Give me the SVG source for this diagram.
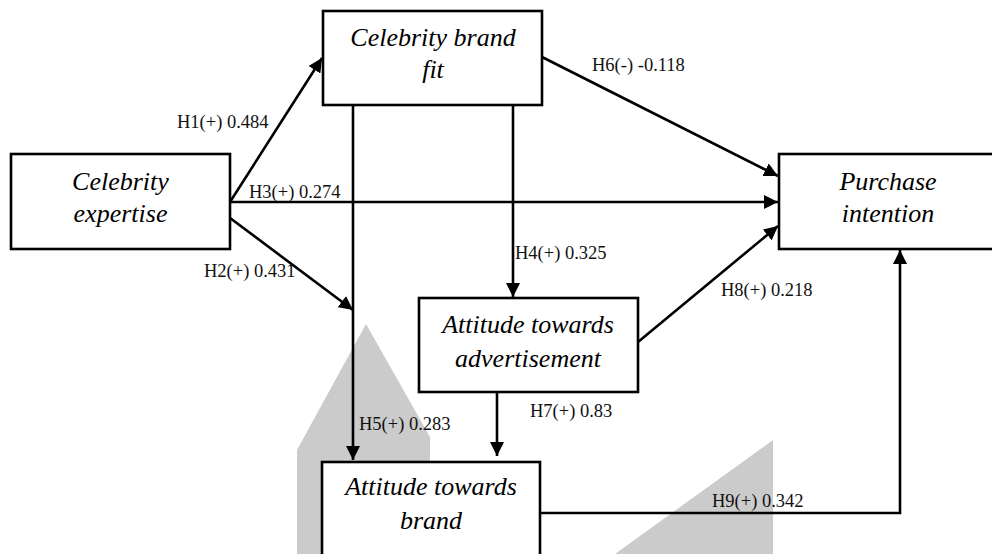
<svg xmlns="http://www.w3.org/2000/svg" width="992" height="554" viewBox="0 0 992 554">
  <defs>
    <marker id="arrow" markerWidth="14" markerHeight="14" refX="14" refY="7" orient="auto" markerUnits="userSpaceOnUse">
      <path d="M0,0 L14,7 L0,14 z" fill="#000"/>
    </marker>
    <style>
      .box { fill: #fff; stroke: #000; stroke-width: 2.6; }
      .node-text { font-family: "Liberation Serif", "Times New Roman", serif; font-style: italic; font-size: 26px; fill: #000; text-anchor: middle; }
      .edge { fill: none; stroke: #000; stroke-width: 2.6; }
      .edge-arrow { marker-end: url(#arrow); }
      .label { font-family: "Liberation Serif", "Times New Roman", serif; font-size: 18.5px; fill: #111; }
      .mark { fill: #cbcbcb; }
    </style>
  </defs>

  <rect width="992" height="554" fill="#fff"/>

  <!-- background watermark shapes -->
  <g id="watermark">
    <polygon class="mark" points="297,554 297,450 366,324 430,437 430,554"/>
    <polygon class="mark" points="773,440 773,554 615,554"/>
  </g>

  <!-- connectors -->
  <g id="connectors">
    <line class="edge edge-arrow" x1="230" y1="202" x2="322" y2="58"/>
    <line class="edge edge-arrow" x1="230" y1="202" x2="778" y2="202"/>
    <line class="edge edge-arrow" x1="230" y1="218" x2="353" y2="310"/>
    <line class="edge edge-arrow" x1="513" y1="105" x2="513" y2="297"/>
    <line class="edge edge-arrow" x1="353" y1="105" x2="353" y2="460"/>
    <line class="edge edge-arrow" x1="542" y1="57" x2="778" y2="176"/>
    <line class="edge edge-arrow" x1="497" y1="392" x2="497" y2="456"/>
    <line class="edge edge-arrow" x1="638" y1="342" x2="778" y2="226"/>
    <polyline class="edge edge-arrow" points="540,513 900,513 900,250"/>
  </g>

  <!-- path labels -->
  <g id="labels">
    <text class="label" x="177" y="128">H1(+) 0.484</text>
    <text class="label" x="204" y="277">H2(+) 0.431</text>
    <text class="label" x="249" y="198">H3(+) 0.274</text>
    <text class="label" x="515" y="259">H4(+) 0.325</text>
    <text class="label" x="359" y="430">H5(+) 0.283</text>
    <text class="label" x="592" y="71">H6(-) -0.118</text>
    <text class="label" x="530" y="417">H7(+) 0.83</text>
    <text class="label" x="721" y="296">H8(+) 0.218</text>
    <text class="label" x="712" y="507">H9(+) 0.342</text>
  </g>

  <g id="celebrity-brand-fit">
    <rect class="box" x="323" y="11" width="219" height="94"/>
    <text class="node-text" x="433" y="46">Celebrity brand</text>
    <text class="node-text" x="433" y="78">fit</text>
  </g>

  <g id="celebrity-expertise">
    <rect class="box" x="11" y="154" width="219" height="95"/>
    <text class="node-text" x="120.5" y="190">Celebrity</text>
    <text class="node-text" x="120.5" y="222">expertise</text>
  </g>

  <g id="purchase-intention">
    <rect class="box" x="779" y="154" width="218" height="95"/>
    <text class="node-text" x="888" y="190">Purchase</text>
    <text class="node-text" x="888" y="222">intention</text>
  </g>

  <g id="attitude-advertisement">
    <rect class="box" x="419" y="298" width="219" height="94"/>
    <text class="node-text" x="528" y="333">Attitude towards</text>
    <text class="node-text" x="528" y="367">advertisement</text>
  </g>

  <g id="attitude-brand">
    <rect class="box" x="322" y="462" width="218" height="110"/>
    <text class="node-text" x="431" y="495">Attitude towards</text>
    <text class="node-text" x="431" y="529">brand</text>
  </g>
</svg>
